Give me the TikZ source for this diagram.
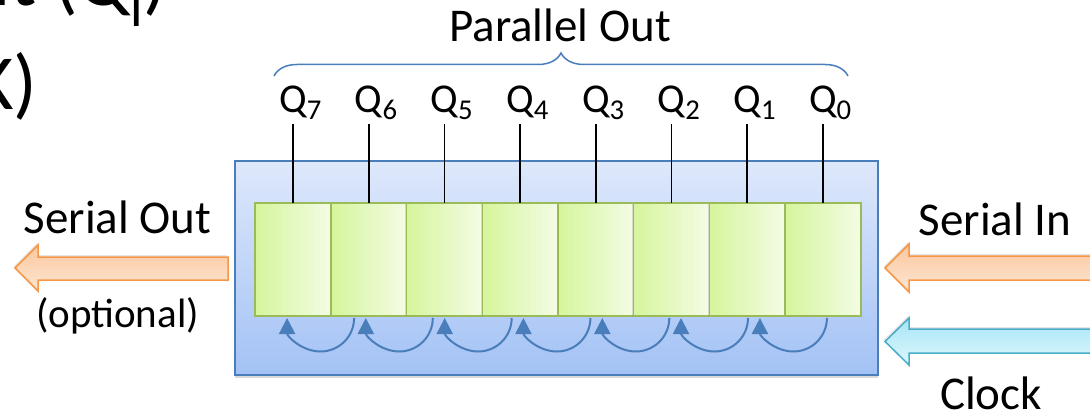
\documentclass[tikz,border=0pt]{standalone}
\usepackage{fontspec}
\setmainfont{Carlito}
\usetikzlibrary{arrows.meta,shadows,decorations.pathreplacing}

\definecolor{regline}{HTML}{4A7EBB}
\definecolor{regtop}{HTML}{DEE8FB}
\definecolor{regbottom}{HTML}{A3C2F5}
\definecolor{cellline}{HTML}{9BBB59}
\definecolor{cellleft}{HTML}{D6F59C}
\definecolor{cellright}{HTML}{F3FCE5}
\definecolor{orline}{HTML}{F79646}
\definecolor{ortop}{HTML}{FBC79D}
\definecolor{orbottom}{HTML}{FDE6D3}
\definecolor{cyline}{HTML}{4BACC6}
\definecolor{cytop}{HTML}{A8E5F6}
\definecolor{cybottom}{HTML}{DDF7FD}

\newcommand\bigfont{\fontsize{39}{46}\selectfont}
\newcommand\lblfont{\fontsize{23.5}{28}\selectfont}
\newcommand\qfont{\fontsize{20.5}{24}\selectfont}

\tikzset{
    regbox/.style={draw=regline, line width=0.75pt, top color=regtop, bottom color=regbottom,
        minimum width=321.5pt, minimum height=107pt, inner sep=0pt,
        drop shadow={shadow xshift=0pt, shadow yshift=-1.5pt, opacity=0.3}},
    cell/.style={draw=cellline, line width=0.75pt, left color=cellleft, right color=cellright,
        minimum width=37.85pt, minimum height=56.5pt, inner sep=0pt, outer sep=0pt,
        drop shadow={shadow xshift=-0.6pt, shadow yshift=-0.6pt, opacity=0.25}},
    qlabel/.style={font=\qfont, anchor=base, inner sep=0pt},
    shiftarrow/.style={draw=regline, line width=1pt, -{Triangle[length=8pt,width=8pt]}},
    brace/.style={draw=regline, line width=0.75pt, decorate, decoration={brace, amplitude=11.5pt}},
    orarrow/.style={draw=orline, line width=0.75pt, top color=ortop, bottom color=orbottom,
        drop shadow={shadow xshift=-0.5pt, shadow yshift=1pt, opacity=0.2}},
    cyarrow/.style={draw=cyline, line width=0.75pt, top color=cytop, bottom color=cybottom,
        drop shadow={shadow xshift=-0.5pt, shadow yshift=1pt, opacity=0.2}},
}

\begin{document}
\begin{tikzpicture}[x=0.5pt,y=0.5pt]
    \useasboundingbox (0,0) rectangle (1090,-411);

    % slide text cut off at the edges
    \node[anchor=base east, inner sep=0pt, font=\bigfont] (head1) at (168,-6) {Output (Q\textsubscript{i})};
    \node[anchor=base east, inner sep=0pt, font=\bigfont] (head2) at (38,-110) {Clock (CLK)};

    % register
    \node[regbox] (reg) at (556.5,-268) {};

    % cells Q7 ... Q0
    \foreach \i/\k in {1/7,2/6,3/5,4/4,5/3,6/2,7/1,8/0} {
        \node[cell] (c\i) at ({217.3+75.7*\i},-259.5) {};
        \node[qlabel] (q\i) at ([yshift=45pt]c\i.north) {Q\rlap{\textsubscript{\k}}};
    }
    \foreach \i in {1,...,8}
        \draw[line width=0.9pt, shorten <=2pt] (q\i.south) -- (c\i.north);

    % shift from cell to cell
    \foreach \j/\dx in {2/-7.3pt,3/-5.8pt,4/-4.2pt,5/-2.7pt,6/-1.1pt,7/0.4pt,8/2pt}
        \draw[shiftarrow] ([xshift=\dx, yshift=-1pt]c\j.south) arc[start angle=0, end angle=-180, radius=33.5];

    % parallel out
    \node[font=\lblfont, anchor=base] (par) at (560,-42) {Parallel Out};
    \draw[brace] (274,-76) -- (848,-76);

    % serial out
    \node[font=\lblfont, anchor=base] (sout) at (117.5,-233) {Serial Out};
    \node[font=\qfont, anchor=base] (opt) at (117.5,-327) {(optional)};
    \path[orarrow] (228,-257) -- (38,-257) -- (38,-245) -- (15,-268) -- (38,-291) -- (38,-280) -- (228,-280) -- cycle;

    % serial in and clock
    \node[font=\lblfont, anchor=base] (sin) at (995,-235) {Serial In};
    \path[orarrow] (1096,-256) -- (909,-256) -- (909,-244) -- (885,-268) -- (909,-292) -- (909,-280) -- (1096,-280) -- cycle;
    \node[font=\lblfont, anchor=base] (clk) at (991,-409) {Clock};
    \path[cyarrow] (1096,-329) -- (909,-329) -- (909,-318) -- (885,-341.5) -- (909,-365) -- (909,-353) -- (1096,-353) -- cycle;
\end{tikzpicture}
\end{document}
